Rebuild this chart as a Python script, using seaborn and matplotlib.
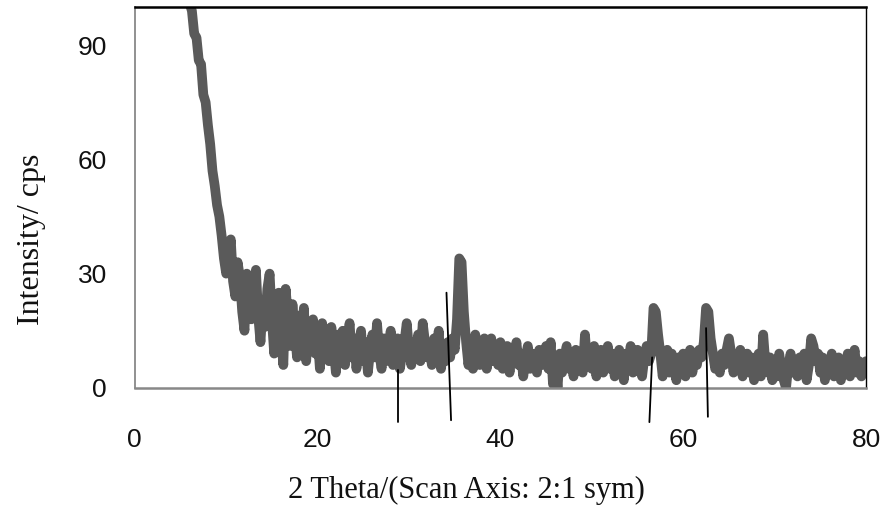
import numpy as np
import pandas as pd
import seaborn as sns
import matplotlib.pyplot as plt

# XRD scan, 2-theta step 0.25 deg from 5 to 80
two_theta = np.arange(5.0, 80.001, 0.25)
intensity = [
    130, 122, 115, 108, 101, 99, 93, 92, 86, 85, 77, 75, 69, 64, 57, 53, 48, 45, 40, 34,
    30, 34, 39, 28, 24, 33, 29, 20, 15, 30, 27, 18, 24, 31, 19, 12, 22, 16, 26, 30,
    18, 9, 21, 25, 14, 6, 26, 19, 11, 22, 15, 8, 19, 13, 21, 7, 16, 11, 18, 9,
    14, 5, 17, 10, 13, 7, 16, 11, 4, 14, 9, 15, 6, 12, 17, 8, 13, 5, 11, 15,
    7, 12, 4, 10, 14, 8, 17, 9, 5, 13, 7, 11, 15, 6, 10, 13, 5, 9, 12, 17,
    10, 6, 12, 9, 14, 7, 17, 12, 8, 11, 6, 13, 9, 15, 5, 10, 7, 12, 8, 13,
    10, 18, 34, 33, 20, 12, 6, 11, 5, 14, 8, 6, 10, 13, 5, 9, 13, 7, 11, 6,
    12, 5, 9, 11, 4, 10, 7, 12, 6, 9, 3, 8, 11, 5, 9, 7, 4, 10, 6, 8,
    11, 5, 12, 1, 7, 0, 9, 4, 8, 11, 5, 9, 3, 10, 6, 8, 4, 14, 6, 9,
    5, 11, 3, 8, 10, 4, 7, 11, 5, 9, 3, 8, 10, 6, 2, 9, 5, 11, 4, 8,
    10, 5, 3, 8, 11, 7, 9, 21, 20, 14, 9, 3, 7, 10, 4, 9, 6, 2, 8, 5,
    9, 3, 7, 10, 4, 8, 6, 10, 8, 12, 21, 20, 13, 9, 5, 8, 4, 9, 6, 10,
    13, 9, 4, 8, 6, 10, 3, 7, 9, 4, 8, 2, 6, 9, 3, 14, 6, 4, 8, 2,
    7, 3, 9, 5, 2, 0, 6, 9, 4, 7, 3, 8, 5, 9, 2, 6, 13, 11, 7, 9,
    4, 8, 2, 7, 5, 9, 3, 6, 8, 2, 7, 4, 9, 3, 6, 10, 4, 7, 3, 6,
    7,
]

# phase marker lines (position at top / bottom, top height)
marker_x_top = [28.8, 34.1, 56.6, 62.5]
marker_x_bottom = [28.8, 34.6, 56.3, 62.7]
marker_top = [4.7, 25, 8, 15.7]
marker_bottom = [-9, -8.5, -9, -7.6]

df = pd.DataFrame({'two_theta': two_theta, 'intensity': intensity})

sns.set_style('white')
serif = ['Liberation Serif', 'DejaVu Serif']
narrow = ['Liberation Sans Narrow', 'DejaVu Sans Condensed', 'Liberation Sans']

fig = plt.figure(figsize=(8.81, 5.09), dpi=100)
ax = fig.add_axes([0.153, 0.238, 0.830, 0.748])

sns.lineplot(data=df, x='two_theta', y='intensity', estimator=None,
             color='#5a5a5a', linewidth=7, ax=ax)

for xt, xb, yt, yb in zip(marker_x_top, marker_x_bottom, marker_top, marker_bottom):
    ax.plot([xb, xt], [yb, yt], color='black', linewidth=1.3, clip_on=False, zorder=5)

ax.set_xlim(0, 80)
ax.set_ylim(0, 100)
ax.set_xticks([0, 20, 40, 60, 80])
ax.set_yticks([0, 30, 60, 90])
ax.tick_params(axis='both', length=0, labelsize=19)
ax.tick_params(axis='x', pad=29)
ax.tick_params(axis='y', pad=20)
for lab in ax.get_xticklabels() + ax.get_yticklabels():
    lab.set_family(narrow)
    lab.set_color('#111111')

ax.set_xlabel('2 Theta/(Scan Axis: 2:1 sym)', family=serif, fontsize=22, color='#111111')
ax.set_ylabel('Intensity/ cps', family=serif, fontsize=23, color='#111111')
ax.xaxis.set_label_coords(0.454, -0.232)
ax.yaxis.set_label_coords(-0.122, 0.39)

ax.spines['top'].set_color('black')
ax.spines['top'].set_linewidth(1.8)
ax.spines['right'].set_color('black')
ax.spines['right'].set_linewidth(1.0)
ax.spines['left'].set_color('#888888')
ax.spines['left'].set_linewidth(1.3)
ax.spines['bottom'].set_color('#888888')
ax.spines['bottom'].set_linewidth(1.8)

fig.savefig('out.png', dpi=100)
